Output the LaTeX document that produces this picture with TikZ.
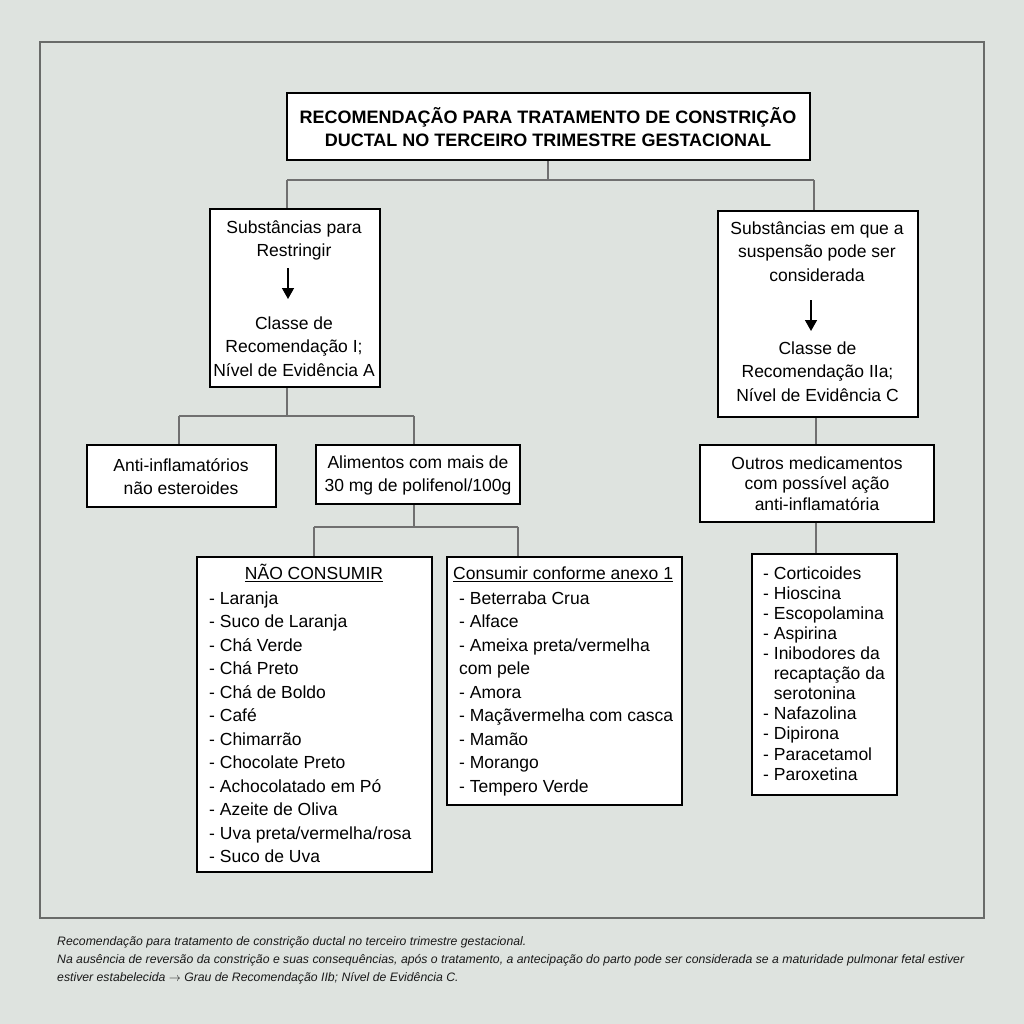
\documentclass[tikz,border=0pt]{standalone}
\usepackage{fontspec}
\setmainfont{Liberation Sans}
\usetikzlibrary{arrows.meta}
\definecolor{bgc}{RGB}{222,227,223}
\definecolor{frm}{RGB}{105,107,105}
\definecolor{conn}{RGB}{112,112,112}
\pgfdeclarelayer{bgfill}
\pgfdeclarelayer{background}
\pgfsetlayers{bgfill,background,main}
\begin{document}
\begin{tikzpicture}[x=1pt,y=-1pt,
  box/.style={draw=black, line width=2.4pt, fill=white, inner sep=0pt, outer sep=0pt, anchor=north west},
  link/.style={draw=conn, line width=1.3pt},
  arr/.style={draw=black, line width=1.5pt, -{Triangle[width=12pt,length=11pt]}},
  txt/.style={inner sep=0pt, align=center, anchor=north, font=\fontsize{17.5}{23.5}\selectfont},
  txtb/.style={inner sep=0pt, align=center, anchor=north, font=\fontsize{17.5}{23}\selectfont},
  lst/.style={inner sep=0pt, align=left, anchor=north west, font=\fontsize{17.5}{23.5}\selectfont},
  lsts/.style={inner sep=0pt, align=left, anchor=north west, font=\fontsize{17.5}{20.1}\selectfont},
  ttl/.style={inner sep=0pt, align=center, anchor=north, font=\fontsize{18}{23}\selectfont\bfseries},
  captxt/.style={inner sep=0pt, align=left, anchor=north west, font=\fontsize{12.25}{18.3}\selectfont\itshape, text=black!90}]
\useasboundingbox (0,0) rectangle (1024,1024);
\begin{pgfonlayer}{bgfill}
\fill[bgc] (0,0) rectangle (1024,1024);
\draw[frm, line width=1.5pt] (40,42) rectangle (984,918);
\end{pgfonlayer}

% boxes
\node[box, minimum width=523pt, minimum height=67pt] (T) at (287,93) {};
\node[box, minimum width=170pt, minimum height=178pt] (L1) at (210,209) {};
\node[box, minimum width=200pt, minimum height=206pt] (R1) at (718,211) {};
\node[box, minimum width=189pt, minimum height=62pt] (L2a) at (87,445) {};
\node[box, minimum width=204pt, minimum height=59pt] (L2b) at (316,445) {};
\node[box, minimum width=234pt, minimum height=77pt] (R2) at (700,445) {};
\node[box, minimum width=235pt, minimum height=315pt] (L3a) at (197,557) {};
\node[box, minimum width=235pt, minimum height=248pt] (L3b) at (447,557) {};
\node[box, minimum width=145pt, minimum height=241pt] (R3) at (752,554) {};

% texts
\node[ttl] (Tt) at (548,107.2) {\strut RECOMENDAÇÃO PARA TRATAMENTO DE CONSTRIÇÃO\\DUCTAL NO TERCEIRO TRIMESTRE GESTACIONAL};
\node[txtb] (L1t) at (294,216.9) {\strut Substâncias para\\Restringir};
\node[txt] (L1u) at (294,312.5) {\strut Classe de\\Recomendação I;\\Nível de Evidência A};
\node[txt] (R1t) at (817,217.5) {\strut Substâncias em que a\\suspensão pode ser\\considerada};
\node[txt] (R1u) at (817.5,337.5) {\strut Classe de\\Recomendação IIa;\\Nível de Evidência C};
\node[txtb] (L2at) at (181,454.9) {\strut Anti-inflamatórios\\não esteroides};
\node[txtb] (L2bt) at (418,451.9) {\strut Alimentos com mais de\\30 mg de polifenol/100g};
\node[inner sep=0pt, align=center, anchor=north, font=\fontsize{17.5}{20.5}\selectfont] (R2t) at (817,454.65) {\strut Outros medicamentos\\com possível ação\\anti-inflamatória};
\node[txt] (L3ah) at (314,562.5) {\strut\underline{NÃO CONSUMIR}};
\node[lst] (L3al) at (209,587.55) {\strut - Laranja\\- Suco de Laranja\\- Chá Verde\\- Chá Preto\\- Chá de Boldo\\- Café\\- Chimarrão\\- Chocolate Preto\\- Achocolatado em Pó\\- Azeite de Oliva\\- Uva preta/vermelha/rosa\\- Suco de Uva};
\node[lst] (L3bh) at (453,562.5) {\strut\underline{Consumir conforme anexo 1}};
\node[lst] (L3bl) at (459,587.55) {\strut - Beterraba Crua\\- Alface\\- Ameixa preta/vermelha\\com pele\\- Amora\\- Maçãvermelha com casca\\- Mamão\\- Morango\\- Tempero Verde};
\node[lsts] (R3l) at (763,564.9) {\strut - Corticoides\\- Hioscina\\- Escopolamina\\- Aspirina\\- Inibodores da\\\phantom{- }recaptação da\\\phantom{- }serotonina\\- Nafazolina\\- Dipirona\\- Paracetamol\\- Paroxetina};
\node[captxt] (C) at (57,932.2) {\strut Recomendação para tratamento de constrição ductal no terceiro trimestre gestacional.\\Na ausência de reversão da constrição e suas consequências, após o tratamento, a antecipação do parto pode ser considerada se a maturidade pulmonar fetal estiver\\estiver estabelecida $\rightarrow$ Grau de Recomendação IIb; Nível de Evidência C.};

% arrows inside boxes
\coordinate (a1s) at (288,268);
\coordinate (a1e) at (288,299);
\draw[arr] (a1s) -- (a1e);
\coordinate (a2s) at (811,300);
\coordinate (a2e) at (811,331);
\draw[arr] (a2s) -- (a2e);

% connectors
\begin{pgfonlayer}{background}
\coordinate (j1) at (548,180);
\coordinate (j1l) at (287,180);
\coordinate (j1r) at (814,180);
\draw[link] (j1 |- T.south) -- (j1);
\draw[link] (j1l) -- (j1r);
\draw[link] (j1l) -- (j1l |- L1.north);
\draw[link] (j1r) -- (j1r |- R1.north);
\coordinate (j2) at (287,416);
\coordinate (j2l) at (179,416);
\coordinate (j2r) at (414,416);
\draw[link] (j2 |- L1.south) -- (j2);
\draw[link] (j2l) -- (j2r);
\draw[link] (j2l) -- (j2l |- L2a.north);
\draw[link] (j2r) -- (j2r |- L2b.north);
\coordinate (j3) at (414,527);
\coordinate (j3l) at (314,527);
\coordinate (j3r) at (518,527);
\draw[link] (j3 |- L2b.south) -- (j3);
\draw[link] (j3l) -- (j3r);
\draw[link] (j3l) -- (j3l |- L3a.north);
\draw[link] (j3r) -- (j3r |- L3b.north);
\coordinate (rx) at (816,0);
\draw[link] (rx |- R1.south) -- (rx |- R2.north);
\draw[link] (rx |- R2.south) -- (rx |- R3.north);
\end{pgfonlayer}
\end{tikzpicture}
\end{document}
